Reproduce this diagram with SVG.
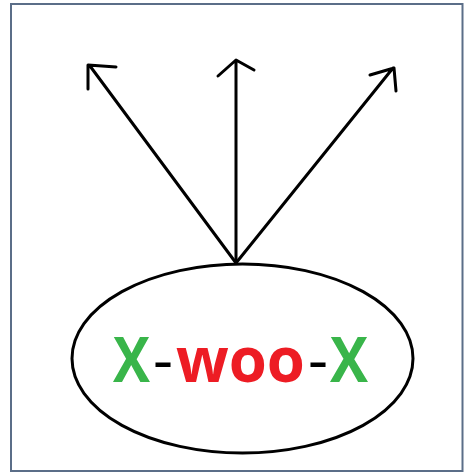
<svg xmlns="http://www.w3.org/2000/svg" width="464" height="473" viewBox="0 0 464 473">
<style>
.ln{fill:none;stroke:#000;stroke-width:3;stroke-linecap:round;stroke-linejoin:round}
.g{fill:#39b54a;font-weight:700}.r{fill:#ed1c24;font-weight:700}.k{fill:#000;font-weight:400}
.t{font-family:'Open Sans','DejaVu Sans',sans-serif;font-size:63px}
</style>
<rect x="0" y="0" width="464" height="473" fill="#fff"/>
<rect x="11" y="4" width="451.5" height="467" fill="none" stroke="#5b6e88" stroke-width="2"/>
<g id="connectors">
<path class="ln" d="M236,263 L90,66 M88,89 L88,65 L116,67"/>
<path class="ln" d="M236,263 L236,61 M218,76 L236,60 L254,70"/>
<path class="ln" d="M236,263 L393,68 M370,75 L394,68 L396,91"/>
</g>
<g id="node">
<ellipse class="ln" cx="242.5" cy="358.5" rx="170.5" ry="94.5"/>
<text class="t" y="382"><tspan class="g" x="113" textLength="37" lengthAdjust="spacingAndGlyphs">X</tspan><tspan class="k" x="153" textLength="20" lengthAdjust="spacingAndGlyphs">-</tspan><tspan class="r" x="176" textLength="129" lengthAdjust="spacingAndGlyphs">woo</tspan><tspan class="k" x="308" textLength="20" lengthAdjust="spacingAndGlyphs">-</tspan><tspan class="g" x="330" textLength="38" lengthAdjust="spacingAndGlyphs">X</tspan></text>
</g>
</svg>
